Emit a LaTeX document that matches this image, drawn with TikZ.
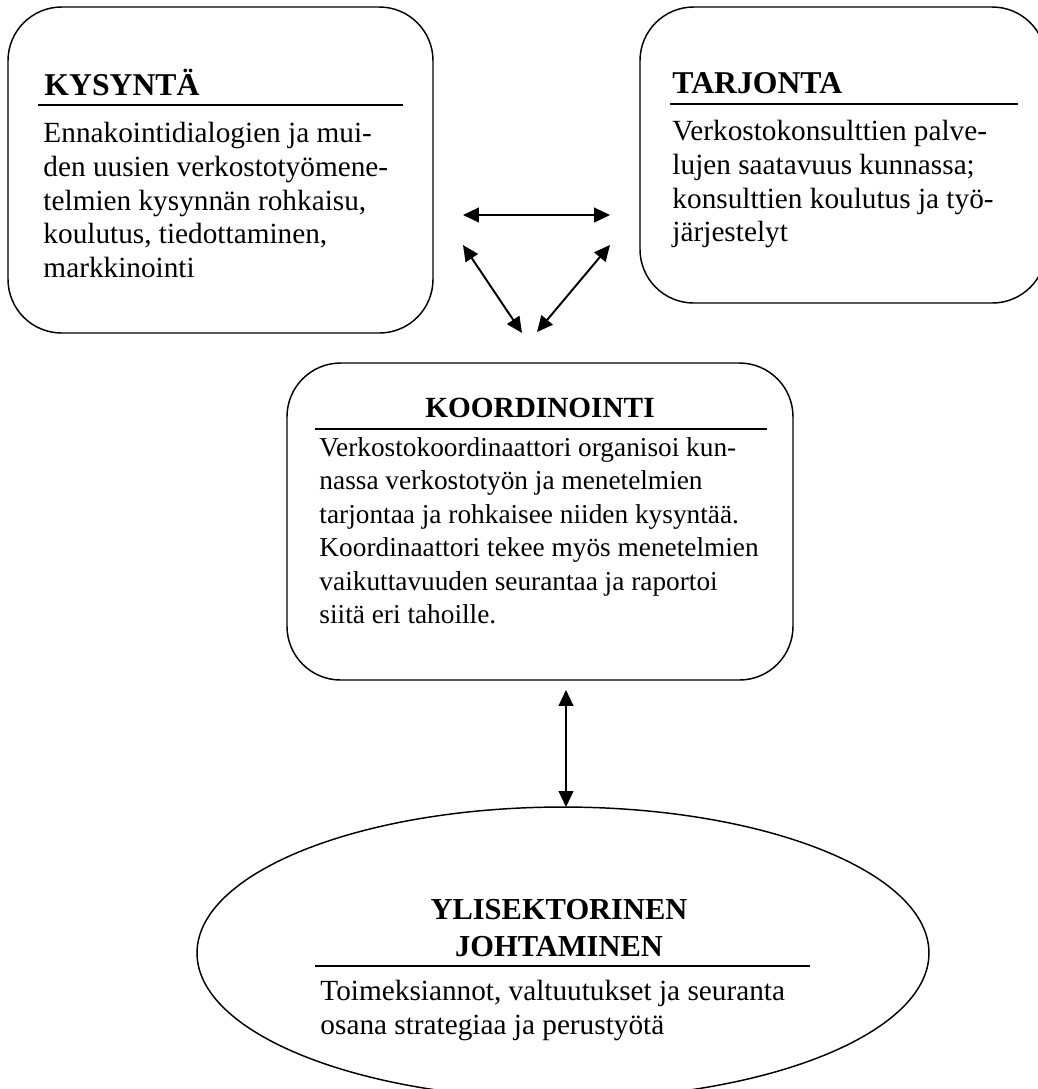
\documentclass[tikz,border=0pt]{standalone}
\usepackage{fontspec}
\setmainfont{Liberation Serif}
\usepackage{tikz}
\usetikzlibrary{arrows.meta,shapes.geometric}

\begin{document}
\begin{tikzpicture}[x=0.41pt,y=-0.41pt,>={Triangle[length=6.5pt,width=6pt]},
  box/.style={draw,line width=0.6pt,rounded corners=22pt,inner sep=0pt},
  head/.style={font=\fontsize{12}{15.2}\selectfont\bfseries,inner sep=0pt},
  bighead/.style={head,font=\fontsize{13}{15.2}\selectfont\bfseries},
  body/.style={font=\fontsize{12}{13.8}\selectfont,inner sep=0pt,align=left,anchor=north west},
  rule/.style={line width=0.8pt},
  link/.style={<->,line width=0.8pt}]
\clip (0,0) rectangle (1038,1089);
% the three boxes and the ellipse
\node (kys) [box,minimum width=174.25pt,minimum height=133.66pt] at (220.5,170) {};
\node (tar) [box,minimum width=166.46pt,minimum height=121.36pt] at (843,155) {};
\node (koo) [box,minimum width=207.46pt,minimum height=129.97pt] at (540,521.5) {};
\node (yli) [ellipse,draw,line width=0.6pt,inner sep=0pt,minimum width=300.1pt,minimum height=119.7pt] at (563,953) {};
% KYSYNTÄ
\node (kysh) [bighead,anchor=base west] at (44,95) {KYSYNTÄ};
\draw[rule] (38,105) -- (403,105);
\node (kyst) [body] at (43,122) {Ennakointidialogien ja mui-\\den uusien verkostotyömene-\\telmien kysynnän rohkaisu,\\koulutus, tiedottaminen,\\markkinointi};
% TARJONTA
\node (tarh) [bighead,anchor=base west] at (672,93) {TARJONTA};
\draw[rule] (670,104) -- (1018,104);
\node (tart) [body] at (672,120) {Verkostokonsulttien palve-\\lujen saatavuus kunnassa;\\konsulttien koulutus ja työ-\\järjestelyt};
% KOORDINOINTI
\node (kooh) [head,anchor=base] at (540,417) {KOORDINOINTI};
\draw[rule] (315,429) -- (767,429);
\node (koot) [body,font=\fontsize{11.2}{13.7}\selectfont] at (319,437) {Verkostokoordinaattori organisoi kun-\\nassa verkostotyön ja menetelmien\\tarjontaa ja rohkaisee niiden kysyntää.\\Koordinaattori tekee myös menetelmien\\vaikuttavuuden seurantaa ja raportoi\\siitä eri tahoille.};
% YLISEKTORINEN JOHTAMINEN
\node (ylih) [head,font=\fontsize{12.5}{15.2}\selectfont\bfseries,align=center,anchor=north] at (559,899) {YLISEKTORINEN\\JOHTAMINEN};
\draw[rule] (315,966) -- (810,966);
\node (ylit) [body] at (320,980) {Toimeksiannot, valtuutukset ja seuranta\\osana strategiaa ja perustyötä};
% arrow ends
\coordinate (kt1) at (463,215);
\coordinate (kt2) at (610,215);
\coordinate (kk1) at (463,245);
\coordinate (kk2) at (522,333);
\coordinate (tk1) at (610,245);
\coordinate (tk2) at (537,332);
\coordinate (ky1) at (566,690);
\coordinate (ky2) at (566,807);
\draw[link] (kt1) -- (kt2);
\draw[link] (kk1) -- (kk2);
\draw[link] (tk1) -- (tk2);
\draw[link] (ky1) -- (ky2);
\end{tikzpicture}
\end{document}
